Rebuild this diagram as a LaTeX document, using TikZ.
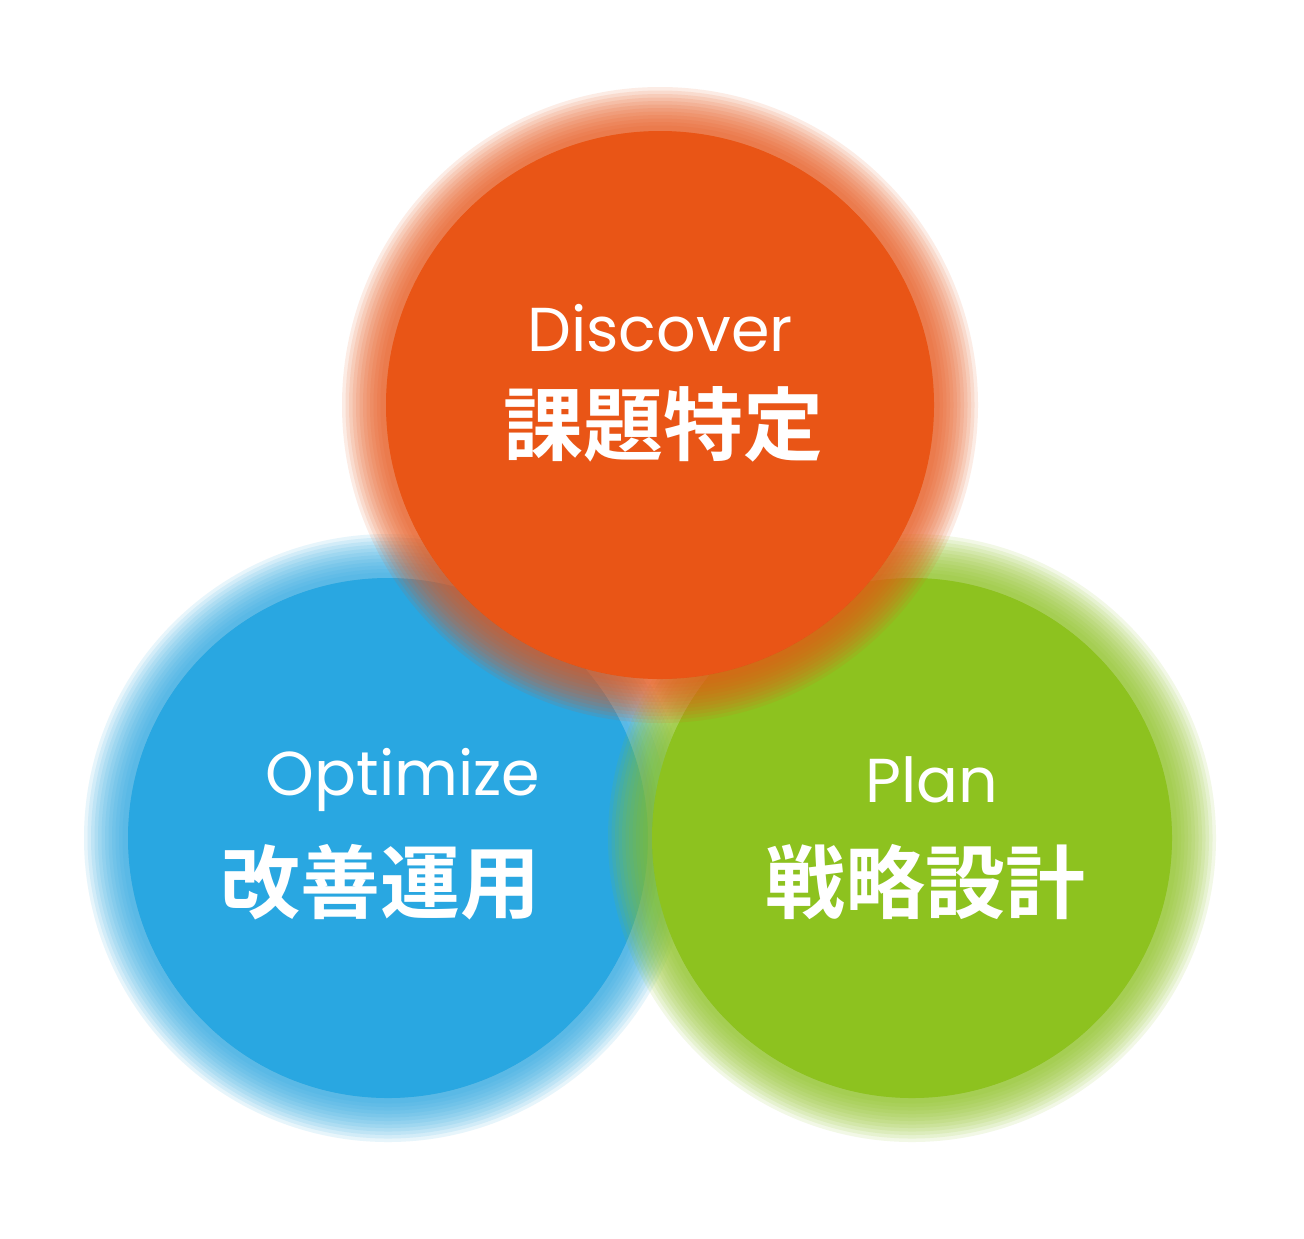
\documentclass[tikz,border=0pt]{standalone}
\usepackage{fontspec}
\setmainfont{Poppins}
\newfontfamily\cjk{Noto Sans CJK JP}[BoldFont={Noto Sans CJK JP Bold}]
\definecolor{discoverorange}{HTML}{E95516}
\definecolor{optimizeblue}{HTML}{29A7E1}
\definecolor{plangreen}{HTML}{8DC21F}
\tikzset{
  entitle/.style={text=white,font=\fontsize{31}{36}\selectfont},
  jatitle/.style={text=white,font=\cjk\bfseries\fontsize{40}{46}\selectfont},
}
\newcommand{\softdisc}[3]{%
  \fill[#1] #2 circle [radius=#3-22];
  \foreach \k in {0,...,11}
    \fill[#1,opacity=0.11] #2 circle [radius=#3+22-3.5*\k];
}
\begin{document}
\begin{tikzpicture}[x=0.5pt,y=-0.5pt]
  \useasboundingbox (0,0) rectangle (1304,1238);
  \fill[white] (0,0) rectangle (1304,1238);

  % circles
  \softdisc{optimizeblue}{(388,838)}{282}
  \softdisc{plangreen}{(912,838)}{282}
  \softdisc{discoverorange}{(660,405)}{296}

  % labels
  \node[entitle] (discover) at (660,328) {Discover};
  \node[jatitle] (discoverja) at (663,424) {課題特定};
  \node[entitle] (optimize) at (403,780) {Optimize};
  \node[jatitle] (optimizeja) at (380,882) {改善運用};
  \node[entitle] (plan) at (932,780) {Plan};
  \node[jatitle] (planja) at (925,882) {戦略設計};
\end{tikzpicture}
\end{document}
